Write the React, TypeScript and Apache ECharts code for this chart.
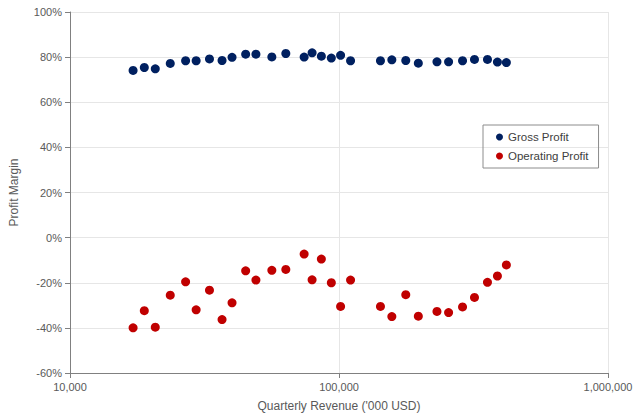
import React, { useEffect, useRef } from "react";
import * as echarts from "echarts";

const revenue = [17160, 18890, 20750, 23590, 26900, 29440, 33000, 36750, 40030, 44980, 49110, 56280, 63430, 74200, 79430, 85990, 93650, 101370, 110400, 142600, 157200, 177100, 197200, 231300, 255500, 287900, 318900, 356400, 388100, 419000];
const grossProfit = [74.1, 75.4, 74.8, 77.2, 78.4, 78.4, 79.2, 78.5, 79.9, 81.3, 81.3, 80.1, 81.6, 80.0, 81.9, 80.4, 79.6, 80.8, 78.4, 78.4, 78.8, 78.5, 77.3, 77.9, 77.9, 78.4, 79.0, 79.0, 77.8, 77.6];
const operatingProfit = [-40.0, -32.4, -39.7, -25.5, -19.6, -32.0, -23.3, -36.3, -28.9, -14.7, -18.8, -14.5, -14.1, -7.3, -18.7, -9.5, -20.0, -30.5, -18.8, -30.5, -35.0, -25.3, -34.8, -32.7, -33.2, -30.7, -26.5, -19.8, -17.0, -12.1];

const seriesNames = ["Gross Profit", "Operating Profit"];
const colors = ["#002060", "#C00000"];

const FONT = "'Liberation Sans', Arial, sans-serif";

export default function App() {
  const ref = useRef<HTMLDivElement>(null);
  useEffect(() => {
    if (!ref.current) return;
    const chart = echarts.init(ref.current, undefined, { renderer: "svg" });
    const fmtNum = (v: number) => Math.round(v).toLocaleString("en-US");
    chart.setOption({
      animation: false,
      backgroundColor: "#ffffff",
      textStyle: { fontFamily: FONT },
      grid: { left: 68, right: 32, top: 12, bottom: 45 },
      legend: {
        orient: "vertical",
        left: 483,
        top: 125,
        data: seriesNames.map((n) => ({ name: n, icon: "circle" })),
        itemWidth: 7,
        itemHeight: 7,
        itemGap: 7,
        borderColor: "#8c8c8c",
        borderWidth: 1,
        padding: [6, 10, 6, 13],
        textStyle: { fontSize: 11.5, color: "#404040", fontFamily: FONT },
      },
      xAxis: {
        type: "log",
        logBase: 10,
        min: 10000,
        max: 1000000,
        name: "Quarterly Revenue ('000 USD)",
        nameLocation: "middle",
        nameGap: 27,
        nameTextStyle: { fontSize: 12, color: "#595959", fontFamily: FONT },
        axisLine: { show: true, onZero: false, lineStyle: { color: "#808080", width: 1 } },
        axisTick: { show: true, length: 5, inside: false, lineStyle: { color: "#808080" } },
        minorTick: { show: false },
        axisLabel: { fontSize: 11, color: "#595959", margin: 8, formatter: (v: number) => fmtNum(v) },
        splitLine: { show: true, lineStyle: { color: "#e6e6e6", width: 1 } },
      },
      yAxis: {
        type: "value",
        min: -60,
        max: 100,
        interval: 20,
        name: "Profit Margin",
        nameLocation: "middle",
        nameGap: 50,
        nameTextStyle: { fontSize: 12, color: "#595959", fontFamily: FONT },
        axisLine: { show: true, onZero: false, lineStyle: { color: "#808080", width: 1 } },
        axisTick: { show: true, length: 5, lineStyle: { color: "#808080" } },
        axisLabel: { fontSize: 11, color: "#595959", margin: 8, formatter: (v: number) => `${v}%` },
        splitLine: { show: true, lineStyle: { color: "#e6e6e6", width: 1 } },
      },
      series: [
        {
          name: seriesNames[0],
          type: "scatter",
          symbol: "circle",
          symbolSize: 9,
          itemStyle: { color: colors[0], opacity: 1 },
          data: revenue.map((r, i) => [r, grossProfit[i]]),
        },
        {
          name: seriesNames[1],
          type: "scatter",
          symbol: "circle",
          symbolSize: 9,
          itemStyle: { color: colors[1], opacity: 1 },
          data: revenue.map((r, i) => [r, operatingProfit[i]]),
        },
      ],
    });
    return () => chart.dispose();
  }, []);
  return <div ref={ref} style={{ width: 640, height: 418, position: "absolute", left: 0, top: 0 }} />;
}
